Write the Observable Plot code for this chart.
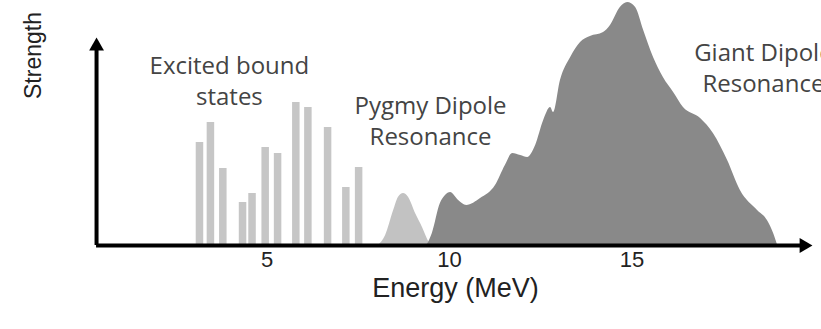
<!DOCTYPE html>
<html>
<head>
<meta charset="utf-8">
<script src="https://cdn.jsdelivr.net/npm/d3@7"></script>
<script src="https://cdn.jsdelivr.net/npm/@observablehq/plot@0.6"></script>
<style>
  html, body { margin: 0; padding: 0; background: #fff; }
  #chart svg { display: block; }
</style>
</head>
<body>
<div id="chart"></div>
<script>
// Excited bound states (discrete lines)
const barEnergy   = [3.15, 3.45, 3.79, 4.33, 4.59, 4.95, 5.29, 5.79, 6.12, 6.66, 7.16, 7.51];
const barStrength = [51.5, 61.5, 38.5, 21.5, 26, 49, 46, 71.5, 69, 59, 29, 39];

// Pygmy Dipole Resonance
const pdrEnergy   = [8.05, 8.25, 8.47, 8.60, 8.74, 8.88, 9.07, 9.26, 9.40, 9.48];
const pdrStrength = [0, 5, 17.5, 24, 26, 24, 16, 9, 3, 0];

// Giant Dipole Resonance
const gdrEnergy   = [9.38, 9.53, 9.75, 9.89, 10.03, 10.25, 10.47, 10.85, 11.26, 11.53, 11.73, 11.95, 12.14, 12.36, 12.58, 12.77, 12.85, 13.04, 13.32, 13.59, 13.86, 14.22, 14.41, 14.68, 14.88, 15.10, 15.32, 15.59, 15.86, 16.14, 16.41, 16.88, 17.23, 17.62, 17.97, 18.44, 18.71, 18.88, 18.99];
const gdrStrength = [0, 6, 21, 25, 26.5, 22.5, 20, 23.5, 30, 40, 46, 45, 44, 50, 62.5, 69, 66.5, 82.5, 94, 101.5, 104.5, 106.5, 110, 119, 121.5, 119, 107.5, 94, 84, 76.5, 69, 63.5, 56, 42.5, 27.5, 17.5, 12.5, 6, 0];

// Axis ticks and labels
const xTicks = [5, 10, 15];
const xTitle = ["Energy (MeV)"];
const yTitle = [{text: "Strength", energy: -1.4, strength: 95}];
const labelText   = ["Excited bound\nstates", "Pygmy Dipole\nResonance", "Giant Dipole\nResonance"];
const labelEnergy = [3.97, 9.48, 18.6];
const labelStrength = [83, 63, 89.5];

// Axis arrow geometry (in data units)
const axisOrigin = {x: 0.33, y: 0};
const xAxisEnd = 19.71;
const yAxisEnd = 99.7;

const bars = barEnergy.map((e, i) => ({energy: e, strength: barStrength[i]}));
const pdr = pdrEnergy.map((e, i) => ({energy: e, strength: pdrStrength[i]}));
const gdr = gdrEnergy.map((e, i) => ({energy: e, strength: gdrStrength[i]}));
const labels = labelText.map((t, i) => ({text: t, energy: labelEnergy[i], strength: labelStrength[i]}));

const chart = Plot.plot({
  width: 821,
  height: 329,
  marginLeft: 84,
  marginRight: 7,
  marginTop: 0,
  marginBottom: 84,
  x: {domain: [0, 20], axis: null},
  y: {domain: [0, 122.5], axis: null},
  style: {background: "#fff", fontFamily: "Liberation Sans, Arial, sans-serif"},
  marks: [
    Plot.ruleX(bars, {x: "energy", y1: 0, y2: "strength", stroke: "#c6c6c6", strokeWidth: 7.5}),
    Plot.areaY(pdr, {x: "energy", y: "strength", fill: "#c2c2c2", curve: "monotone-x"}),
    Plot.areaY(gdr, {x: "energy", y: "strength", fill: "#898989", curve: "monotone-x"}),
    Plot.ruleY([axisOrigin], {y: "y", x1: axisOrigin.x, x2: xAxisEnd, stroke: "#000", strokeWidth: 4}),
    Plot.ruleX([axisOrigin], {x: "x", y1: axisOrigin.y, y2: yAxisEnd, stroke: "#000", strokeWidth: 4}),
    Plot.dot([{x: xAxisEnd, y: axisOrigin.y}], {x: "x", y: "y", symbol: "triangle", r: 5.5, rotate: 90, fill: "#000", stroke: "none"}),
    Plot.dot([{x: axisOrigin.x, y: yAxisEnd}], {x: "x", y: "y", symbol: "triangle", r: 5.5, fill: "#000", stroke: "none"}),
    Plot.text(xTicks, {x: d => d, frameAnchor: "bottom", dy: 21, fontSize: 22, fill: "#222", text: d => String(d)}),
    Plot.text(xTitle, {frameAnchor: "bottom", dx: 6, dy: 51, fontSize: 27, fill: "#222", text: d => d}),
    Plot.text(yTitle, {x: "energy", y: "strength", text: "text", rotate: -90, fontSize: 23, fill: "#222"}),
    Plot.text(labels, {x: "energy", y: "strength", text: "text", fontSize: 24, lineHeight: 1.3, fill: "#444", fontFamily: "Open Sans"})
  ]
});
document.getElementById("chart").appendChild(chart);
</script>
</body>
</html>
